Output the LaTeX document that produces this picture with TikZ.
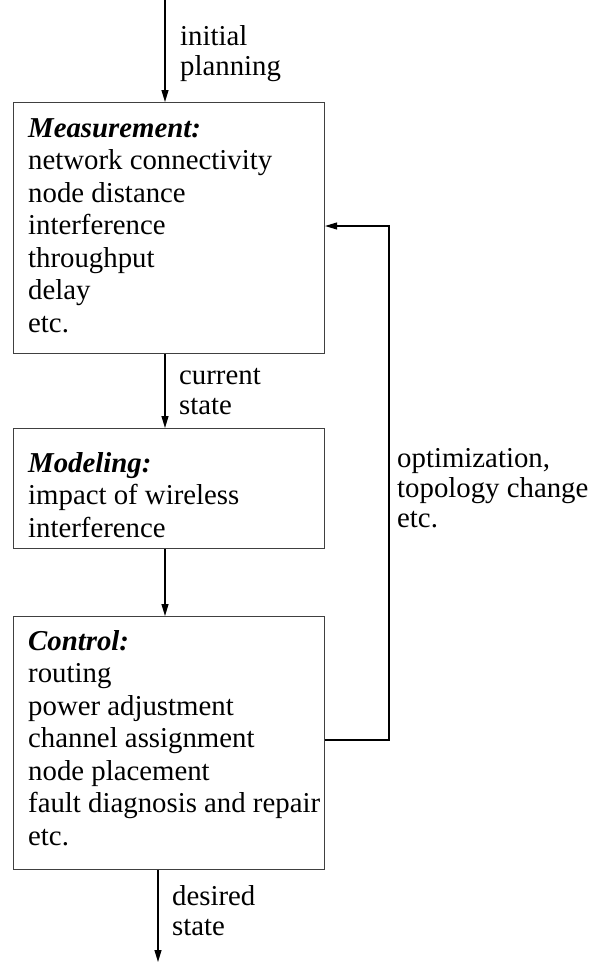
\documentclass[tikz,border=0pt]{standalone}
\usepackage{fontspec}
\setmainfont{Liberation Serif}
\usetikzlibrary{arrows.meta}
\begin{document}
\begin{tikzpicture}[x=1pt,y=1pt,
  stagebox/.style={draw=black!75, line width=1.1pt, anchor=north west, inner sep=0pt},
  body/.style={anchor=base west, align=left, inner sep=0pt, font=\fontsize{28.8}{32.5}\selectfont},
  lbl/.style={anchor=base west, align=left, inner sep=0pt, font=\fontsize{28.8}{30}\selectfont},
  flow/.style={line width=1.1pt, -{Triangle[length=12pt,width=7pt]}}]
\useasboundingbox (0,0) rectangle (593,-962);

% stage boxes
\node[stagebox, minimum width=311pt, minimum height=251pt] (meas) at (13,-102) {};
\node[stagebox, minimum width=311pt, minimum height=120pt] (model) at (13,-428) {};
\node[stagebox, minimum width=311pt, minimum height=253pt] (ctrl) at (13,-616) {};

% box contents (anchored at the baseline of the last line)
\node[body] (measT) at (28,-332) {\textbf{\textit{Measurement:}}\\network connectivity\\node distance\\interference\\throughput\\delay\\etc.};
\node[body] (modelT) at (28,-537) {\textbf{\textit{Modeling:}}\\impact of wireless\\interference};
\node[body] (ctrlT) at (28,-845) {\textbf{\textit{Control:}}\\routing\\power adjustment\\channel assignment\\node placement\\fault diagnosis and repair\\etc.};

% free ends of the entry and exit arrows
\coordinate (start) at (165,0);
\coordinate (finish) at (158,-962);
\coordinate (loopTop) at (389,-226);
\coordinate (loopBot) at (389,-740);

% flow of the loop
\draw[flow] (start) -- (meas.north -| start);
\draw[flow] (meas.south -| start) -- (model.north -| start);
\draw[flow] (model.south -| start) -- (ctrl.north -| start);
\draw[flow] (ctrl.south -| finish) -- (finish);
\draw[flow] (ctrl.east |- loopBot) -- (loopBot) -- (loopTop) -- (meas.east |- loopTop);

% arrow labels
\node[lbl] (initL) at (180,-75) {initial\\planning};
\node[lbl] (curL) at (179,-414) {current\\state};
\node[lbl] (optL) at (397,-527) {optimization,\\topology change\\etc.};
\node[lbl] (desL) at (172,-935) {desired\\state};
\end{tikzpicture}
\end{document}
